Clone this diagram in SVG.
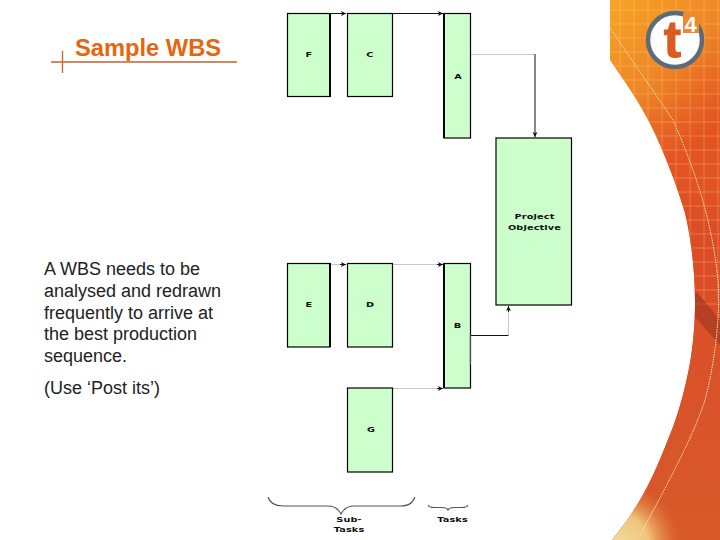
<svg xmlns="http://www.w3.org/2000/svg" width="720" height="540" viewBox="0 0 720 540">
<style>
.box{fill:#ccffcc;stroke:#000;stroke-width:1.2}
.thick{stroke:#000;stroke-width:2;fill:none}
.lbl{font-family:"DejaVu Sans",sans-serif;font-size:7.5px;font-weight:bold;fill:#111;text-anchor:middle;letter-spacing:.1px}
.body{font-family:"Liberation Sans",Arial,sans-serif;font-size:18px;fill:#222}
.dark{fill:none;stroke:#111;stroke-width:1}
.grey{fill:none;stroke:#c8c8c8;stroke-width:1}
.brace{fill:none;stroke:#555;stroke-width:1.2}
.grid{stroke:#ffd9a0;stroke-width:1;opacity:.3}
</style>
<defs>
<linearGradient id="bg" gradientUnits="userSpaceOnUse" x1="610" y1="0" x2="720" y2="120">
<stop offset="0" stop-color="#f7a526"/><stop offset=".55" stop-color="#ee8527"/><stop offset="1" stop-color="#e2521f"/>
</linearGradient>
<linearGradient id="bg2" gradientUnits="userSpaceOnUse" x1="0" y1="100" x2="0" y2="540">
<stop offset="0" stop-color="#e8642a" stop-opacity="0"/><stop offset=".3" stop-color="#dc4c26"/><stop offset=".7" stop-color="#d9532a"/><stop offset="1" stop-color="#d85a2a"/>
</linearGradient>
<radialGradient id="corner" gradientUnits="userSpaceOnUse" cx="618" cy="545" r="62">
<stop offset="0" stop-color="#f3dc9c"/><stop offset=".5" stop-color="#efc47c"/><stop offset="1" stop-color="#e8843c" stop-opacity="0"/>
</radialGradient>
<marker id="ah" markerWidth="6" markerHeight="6" refX="5" refY="3" orient="auto" markerUnits="userSpaceOnUse"><path d="M0 .5L5 3L0 5.5L1.2 3Z" fill="#111"/></marker>
<clipPath id="sw"><path d="M610 0V60C622 78 638 100 648 120C660 142 676 182 685 213C692 242 695 275 695 303C695 325 693 345 690 363C686 385 680 408 673 427C662 455 652 480 640 500C632 514 622 528 612 540H720V0Z"/></clipPath>
</defs>
<rect width="720" height="540" fill="#fff"/>
<g id="swoosh" clip-path="url(#sw)">
<rect x="600" width="120" height="540" fill="url(#bg)"/>
<rect x="600" y="100" width="120" height="440" fill="url(#bg2)"/>
<rect x="600" y="470" width="90" height="70" fill="url(#corner)"/>
<path class="grid" d="M610 10H720M610 24H720M610 38H720M610 52H720M610 66H720M610 80H720M610 94H720M610 108H720M610 122H720M610 136H720M610 150H720M610 164H720M610 178H720M610 192H720M610 206H720M610 220H720M610 234H720M610 248H720M610 262H720M610 276H720M610 290H720M610 304H720M620 0V300M634 0V300M648 0V300M662 0V300M676 0V300M690 0V300M704 0V300M718 0V300"/>
<path d="M695 290L720 320V345L695 317Z" fill="#8f2f1d" opacity=".5"/>
<path d="M610 28L673 120C695 170 712 220 718 280C721 320 713 370 705 400C695 432 670 480 640 535" fill="none" stroke="#fde6c0" stroke-width="1" stroke-dasharray="1.5 1"/>
</g>
<g id="logo">
<circle cx="675" cy="40" r="27" fill="#fff" stroke="#5b6c78" stroke-width="4.500"/>
<rect x="683" y="13" width="16" height="20" fill="#f08a28"/>
<text x="672.500" y="57" font-family="'Liberation Sans',sans-serif" font-size="52" font-weight="bold" fill="#dc5a20" text-anchor="middle" stroke="#dc5a20" stroke-width="1">t</text>
<text x="690.500" y="32" font-family="'Liberation Sans',sans-serif" font-size="22" fill="#fff" text-anchor="middle" font-weight="bold">4</text>
</g>
<g id="title">
<path d="M51 62H237M62.500 51V73" fill="none" stroke="#c8622a" stroke-width="1.300"/>
<text x="148" y="56" font-family="'Liberation Sans',Arial,sans-serif" font-size="23.700" font-weight="bold" fill="#e8650f" text-anchor="middle">Sample WBS</text>
</g>
<g id="body-text" class="body">
<text x="44" y="275">A WBS needs to be</text>
<text x="44" y="297">analysed and redrawn</text>
<text x="44" y="319">frequently to arrive at</text>
<text x="44" y="340">the best production</text>
<text x="44" y="362">sequence.</text>
<text x="44" y="394">(Use ‘Post its’)</text>
</g>
<g id="connectors">
<path class="dark" d="M330 13.500H346" marker-end="url(#ah)"/>
<path class="dark" d="M392 13.500H443" marker-end="url(#ah)"/>
<path class="grey" d="M471 54.500H535"/>
<path class="dark" d="M535 54V137" marker-end="url(#ah)"/>
<path class="grey" d="M330 264.500H346"/><path class="dark" d="M340 264.500H346" marker-end="url(#ah)"/>
<path class="grey" d="M393 264.500H443"/><path class="dark" d="M437 264.500H443" marker-end="url(#ah)"/>
<path class="grey" d="M393 388.500H443"/><path class="dark" d="M437 388.500H443" marker-end="url(#ah)"/>
<path class="dark" d="M471 335.500H508.500"/>
<path class="grey" d="M508.500 335V306"/><path class="dark" d="M508.500 312V306" marker-end="url(#ah)"/>
</g>
<g id="node-F"><rect class="box" x="287.500" y="13.500" width="42.500" height="83"/><path class="thick" d="M330 13V97"/><text class="lbl" transform="translate(309 57) scale(1.3 1)">F</text></g>
<g id="node-C"><rect class="box" x="347.500" y="13.500" width="45" height="83"/><text class="lbl" transform="translate(370 57) scale(1.3 1)">C</text></g>
<g id="node-A"><rect class="box" x="444" y="13.500" width="26.500" height="124.500"/><path class="thick" d="M444 13V138"/><text class="lbl" transform="translate(458 79) scale(1.3 1)">A</text></g>
<g id="node-objective"><rect class="box" x="496" y="138" width="75.500" height="167"/><text class="lbl" transform="translate(534.500 219) scale(1.3 1)">Project</text><text class="lbl" transform="translate(534.500 230) scale(1.3 1)">Objective</text></g>
<g id="node-E"><rect class="box" x="287.500" y="263.500" width="42.500" height="83.500"/><path class="thick" d="M330 263V347"/><text class="lbl" transform="translate(309 307) scale(1.3 1)">E</text></g>
<g id="node-D"><rect class="box" x="347.500" y="263.500" width="45" height="83.500"/><text class="lbl" transform="translate(370 307) scale(1.3 1)">D</text></g>
<g id="node-B"><rect class="box" x="444" y="263.500" width="26.500" height="124.500"/><path class="thick" d="M444 263V388"/><path d="M470 335V365" stroke="#999" stroke-width="1"/><text class="lbl" transform="translate(457.500 328) scale(1.3 1)">B</text></g>
<g id="node-G"><rect class="box" x="347.500" y="388" width="45" height="84"/><text class="lbl" transform="translate(371 432) scale(1.3 1)">G</text></g>
<g id="brace-subtasks"><path class="brace" d="M268 497C270 504 275 506 283 506H328C334 506 338 508 341 514C344 508 348 506 354 506H400C408 506 412 504 415 497"/><text class="lbl" transform="translate(349 522) scale(1.3 1)">Sub-</text><text class="lbl" transform="translate(349 532) scale(1.3 1)">Tasks</text></g>
<g id="brace-tasks"><path class="brace" d="M428 505C429 507 431 507.500 434 507.500H442C445 507.500 447 508 448 510C449 508 451 507.500 454 507.500H462C465 507.500 467 507 468 505"/><text class="lbl" transform="translate(452.500 522) scale(1.3 1)">Tasks</text></g>
</svg>
